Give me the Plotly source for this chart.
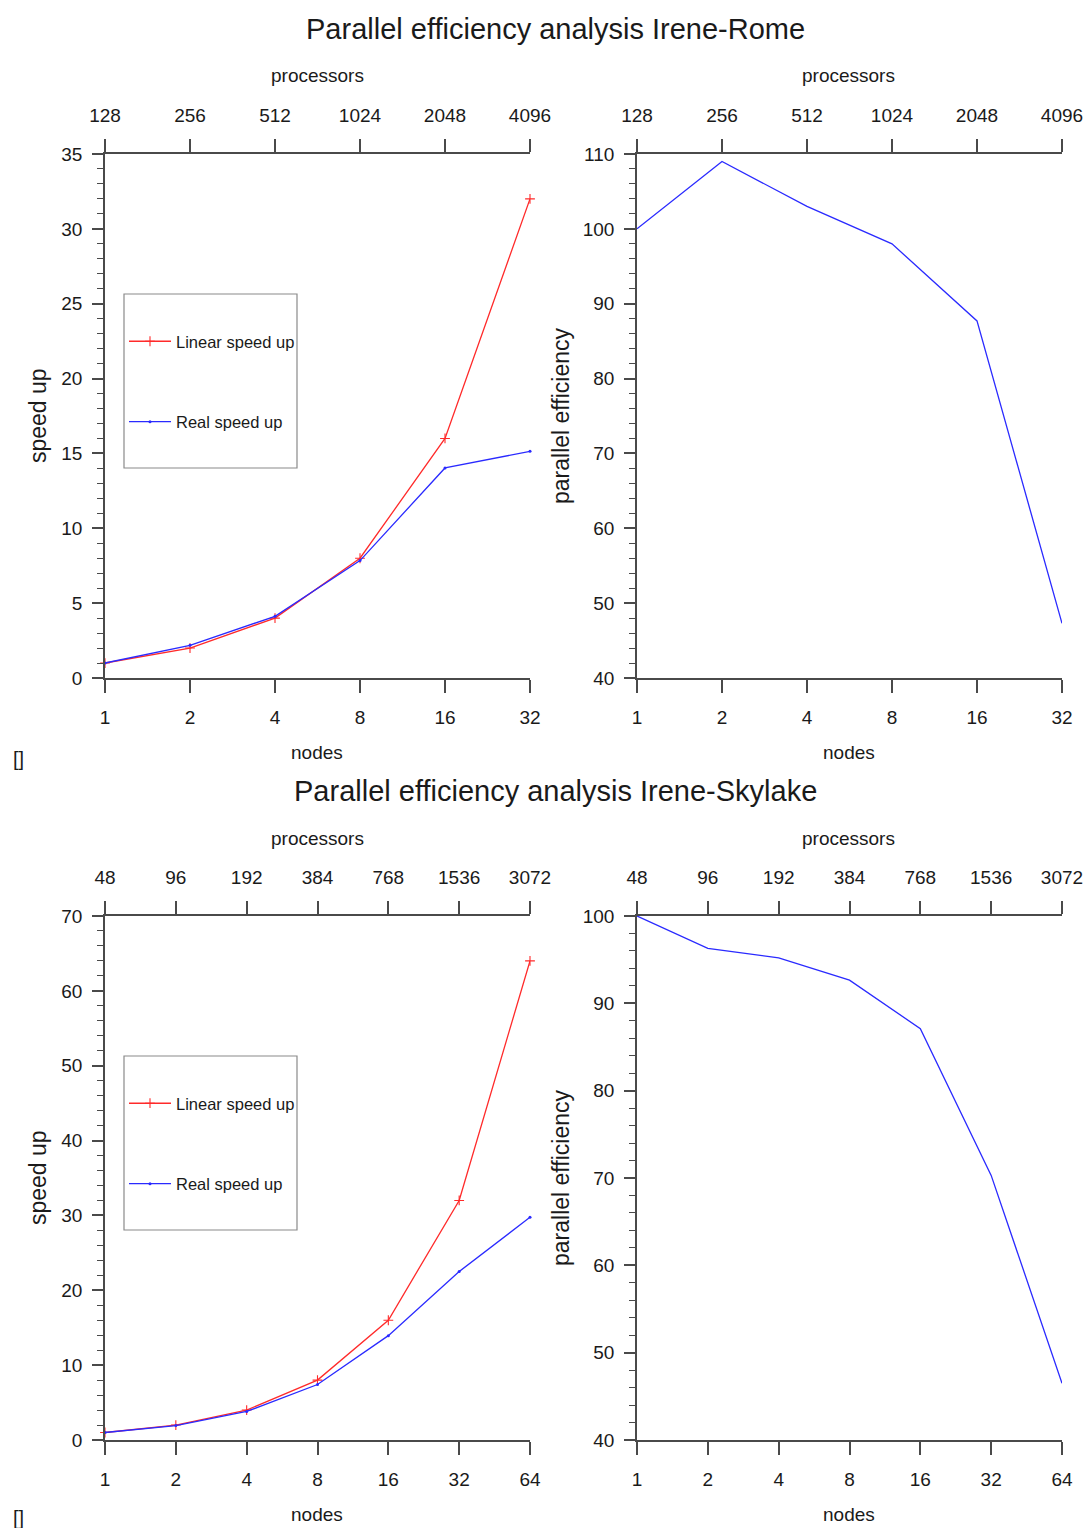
import math
import plotly.graph_objects as go

# ---------------- data ----------------
rome_nodes = [1, 2, 4, 8, 16, 32]
rome_procs = [128, 256, 512, 1024, 2048, 4096]
rome_linear = [1, 2, 4, 8, 16, 32]
rome_real = [1, 2.18, 4.12, 7.84, 14.03, 15.14]
rome_eff = [100, 109, 103, 98, 87.7, 47.3]

sky_nodes = [1, 2, 4, 8, 16, 32, 64]
sky_procs = [48, 96, 192, 384, 768, 1536, 3072]
sky_linear = [1, 2, 4, 8, 16, 32, 64]
sky_real = [1, 1.93, 3.81, 7.41, 13.94, 22.5, 29.76]
sky_eff = [100, 96.3, 95.2, 92.65, 87.1, 70.3, 46.5]

W, H = 1086, 1528
FONT = "Liberation Sans, Arial, sans-serif"
AX = "#4a4a4a"
TXT = "#1a1a1a"
RED = "#ff2a2a"
BLUE = "#2a2aff"

def px(x):
    return x / W

def py(y):
    return 1 - y / H

fig = go.Figure()

XL = [px(105), px(530)]
XR = [px(637), px(1062)]
YT = [py(678), py(154)]
YB = [py(1440), py(916)]

panels = [
    ("x", "x2", "y", XL, YT, rome_nodes, rome_procs, [0, 35], 5, 1),
    ("x3", "x4", "y2", XR, YT, rome_nodes, rome_procs, [40, 110], 10, 2),
    ("x5", "x6", "y3", XL, YB, sky_nodes, sky_procs, [0, 70], 10, 2),
    ("x7", "x8", "y4", XR, YB, sky_nodes, sky_procs, [40, 100], 10, 2),
]

tickfont = dict(family=FONT, size=19, color=TXT)

def lname(a):
    return "xaxis" if a == "x" else "xaxis" + a[1:]

def yname(a):
    return "yaxis" if a == "y" else "yaxis" + a[1:]

for xb, xt, ya, xd, yd, nodes, procs, yr, dt, mn in panels:
    fig.layout[lname(xb)] = dict(
        domain=xd, anchor=ya, type="log",
        range=[math.log10(nodes[0]), math.log10(nodes[-1])],
        tickvals=nodes, ticktext=[str(n) for n in nodes],
        ticks="outside", ticklen=13, tickwidth=1.6, tickcolor=AX,
        showline=True, linecolor=AX, linewidth=1.6, showgrid=False,
        zeroline=False, tickfont=tickfont, ticklabelstandoff=8,
        automargin=False, fixedrange=True,
    )
    fig.layout[lname(xt)] = dict(
        overlaying=xb, anchor=ya, side="top", type="log",
        range=[math.log10(procs[0]), math.log10(procs[-1])],
        tickvals=procs, ticktext=[str(p) for p in procs],
        ticks="outside", ticklen=13, tickwidth=1.6, tickcolor=AX,
        showline=True, linecolor=AX, linewidth=1.6, showgrid=False,
        zeroline=False, tickfont=tickfont, ticklabelstandoff=10,
        automargin=False, fixedrange=True,
    )
    fig.layout[yname(ya)] = dict(
        domain=yd, anchor=xb, range=yr, dtick=dt, tick0=0,
        ticks="outside", ticklen=11, tickwidth=1.6, tickcolor=AX,
        minor=dict(dtick=mn, ticks="outside", ticklen=6, tickwidth=1.2,
                   tickcolor=AX, showgrid=False),
        showline=True, linecolor=AX, linewidth=1.6, showgrid=False,
        zeroline=False, tickfont=tickfont, ticklabelstandoff=6,
        automargin=False, fixedrange=True,
    )
    # helper (invisible) trace so the top processors axis is drawn
    fig.add_trace(go.Scatter(x=procs, y=[yr[0]] * len(procs), xaxis=xt, yaxis=ya,
                             mode="lines", line=dict(width=0), opacity=0,
                             showlegend=False, hoverinfo="skip"))

for xb, ya, nodes, lin, real, leg, grp in [
    ("x", "y", rome_nodes, rome_linear, rome_real, "legend", "a"),
    ("x5", "y3", sky_nodes, sky_linear, sky_real, "legend2", "c"),
]:
    fig.add_trace(go.Scatter(
        x=nodes, y=lin, xaxis=xb, yaxis=ya, name="Linear speed up",
        mode="lines+markers", line=dict(color=RED, width=1.3),
        marker=dict(symbol="cross-thin", size=7, line=dict(color=RED, width=1.1)),
        legend=leg, legendgroup=grp + "1", cliponaxis=False,
    ))
    fig.add_trace(go.Scatter(
        x=nodes, y=real, xaxis=xb, yaxis=ya, name="Real speed up",
        mode="lines+markers", line=dict(color=BLUE, width=1.3),
        marker=dict(symbol="circle", size=3, color=BLUE),
        legend=leg, legendgroup=grp + "2", cliponaxis=False,
    ))

for xb, ya, nodes, eff in [("x3", "y2", rome_nodes, rome_eff), ("x7", "y4", sky_nodes, sky_eff)]:
    fig.add_trace(go.Scatter(
        x=nodes, y=eff, xaxis=xb, yaxis=ya, mode="lines",
        line=dict(color=BLUE, width=1.3), showlegend=False, cliponaxis=False,
    ))

legfont = dict(family=FONT, size=16.5, color=TXT)
legcommon = dict(xanchor="left", yanchor="top", bgcolor="rgba(0,0,0,0)",
                 borderwidth=0, font=legfont, traceorder="grouped",
                 tracegroupgap=56, itemwidth=42, itemclick=False)
fig.update_layout(
    legend=dict(x=px(124), y=py(324), **legcommon),
    legend2=dict(x=px(124), y=py(1086), **legcommon),
)

shapes = []
for top, bot in [(294, 468), (1056, 1230)]:
    shapes.append(dict(type="rect", xref="paper", yref="paper",
                       x0=px(124), x1=px(297), y0=py(bot), y1=py(top),
                       line=dict(color="#8a8a8a", width=1.2)))

annotations = []
def ann(text, x, y, size, angle=0, xanchor="center"):
    annotations.append(dict(text=text, x=px(x), y=py(y), xref="paper", yref="paper",
                            showarrow=False, textangle=angle, xanchor=xanchor,
                            yanchor="middle",
                            font=dict(family=FONT, size=size, color=TXT)))

ann("Parallel efficiency analysis Irene-Rome", 555, 29, 29)
ann("Parallel efficiency analysis Irene-Skylake", 555, 791, 29)
for cx in (317, 849):
    ann("processors", cx, 76, 19)
    ann("nodes", cx, 752, 19)
    ann("processors", cx, 838, 19)
    ann("nodes", cx, 1514, 19)
ann("speed up", 38, 416, 23, -90)
ann("speed up", 38, 1178, 23, -90)
ann("parallel efficiency", 561, 416, 23, -90)
ann("parallel efficiency", 561, 1178, 23, -90)
ann("[]", 18, 759, 20)
ann("[]", 18, 1518, 20)

fig.update_layout(
    width=W, height=H, margin=dict(l=0, r=0, t=0, b=0),
    paper_bgcolor="white", plot_bgcolor="white",
    annotations=annotations, shapes=shapes,
    font=dict(family=FONT, color=TXT),
)

fig.write_html("out.html", config={"displayModeBar": False},
               post_script="document.body.style.margin='0';")
